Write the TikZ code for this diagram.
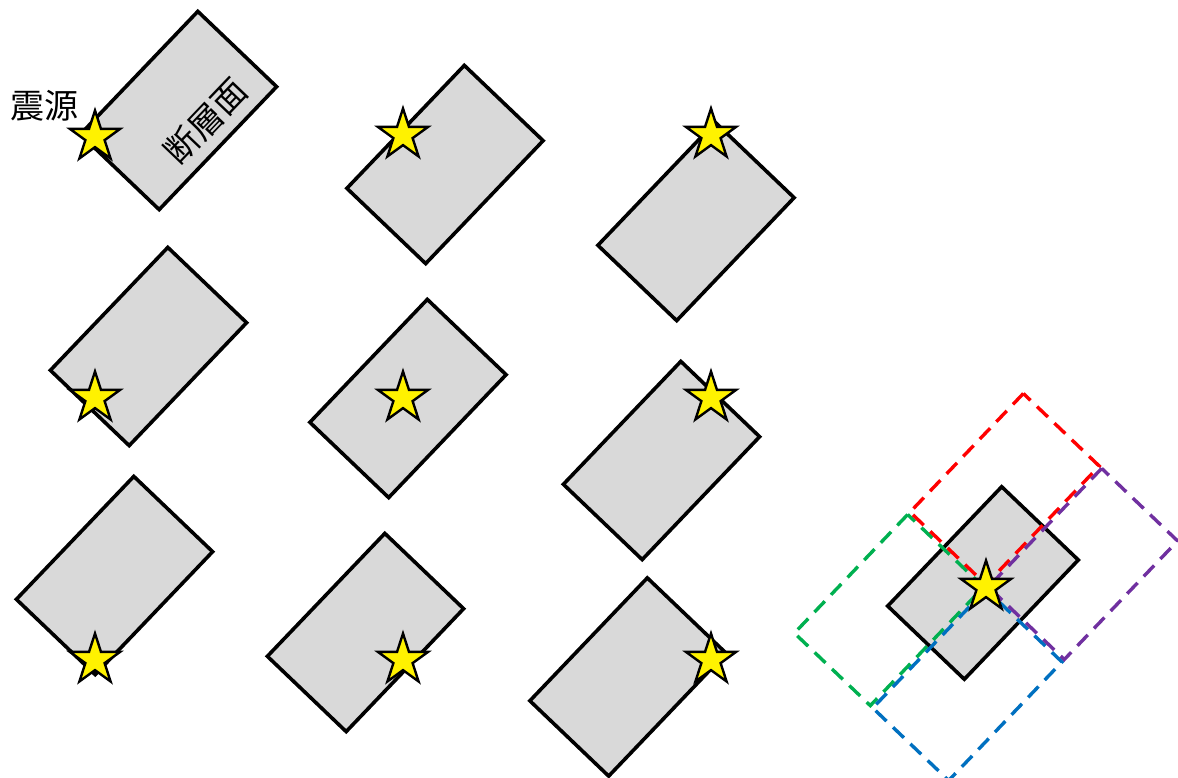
\documentclass[tikz,border=0pt]{standalone}
\usepackage{fontspec}
\newfontfamily\jpfont{Noto Sans CJK JP}
\usetikzlibrary{shapes.geometric}
\definecolor{faultgray}{HTML}{D9D9D9}
\definecolor{dred}{HTML}{FF0000}
\definecolor{dpurple}{HTML}{7030A0}
\definecolor{dblue}{HTML}{0070C0}
\definecolor{dgreen}{HTML}{00B050}
\tikzset{
  fault/.style={rectangle, draw=black, fill=faultgray, line width=3.6pt, inner sep=0pt,
    minimum width=170pt, minimum height=109pt, rotate=46.3, line join=miter},
  smallfault/.style={fault, minimum width=165pt, minimum height=106pt},
  quad/.style={rectangle, line width=3.4pt, inner sep=0pt, dash pattern=on 15pt off 9pt,
    minimum width=164pt, minimum height=105pt, rotate=46.3},
  hypo/.style={star, star points=5, star point ratio=2.618, draw=black, fill=yellow,
    line width=2.4pt, minimum size=53pt, inner sep=0pt},
  lbl/.style={font=\jpfont\fontsize{34}{36}\selectfont, inner sep=0pt}
}
\begin{document}
\begin{tikzpicture}[x=1pt, y=-1pt]
\useasboundingbox (0,0) rectangle (1178,778);
% fault planes
\node[fault] (f1) at (178.5,110.5) {};
\node[fault] (f2) at (445,164.5) {};
\node[fault] (f3) at (696,221.5) {};
\node[fault] (f4) at (148.5,346.5) {};
\node[fault] (f5) at (408,398.5) {};
\node[fault] (f6) at (661.5,460.5) {};
\node[fault] (f7) at (114.5,575.5) {};
\node[fault] (f8) at (365.5,632.5) {};
\node[fault] (f9) at (628,677) {};
\node[smallfault] (f10) at (983,583) {};
% labels
\node[lbl] (t1) at (44,106) {震源};
\node[lbl, rotate=46.3] (t2) at (206,121) {断層面};
% candidate quadrants around the last hypocentre
\coordinate (h10c) at (986,587);
\node[quad, draw=dgreen, anchor=south east] (qg) at (h10c) {};
\node[quad, draw=dblue, anchor=north east] (qb) at (h10c) {};
\node[quad, draw=dred, anchor=south west] (qr) at (h10c) {};
\node[quad, draw=dpurple, anchor=north west] (qp) at (h10c) {};
% hypocentres
\node[hypo] (h1) at (95,137) {};
\node[hypo] (h2) at (403,135) {};
\node[hypo] (h3) at (711,135) {};
\node[hypo] (h4) at (95,398) {};
\node[hypo] (h5) at (403,398) {};
\node[hypo] (h6) at (711,398) {};
\node[hypo] (h7) at (95,660) {};
\node[hypo] (h8) at (403,660) {};
\node[hypo] (h9) at (711,660) {};
\node[hypo] (h10) at (h10c) {};
\end{tikzpicture}
\end{document}
